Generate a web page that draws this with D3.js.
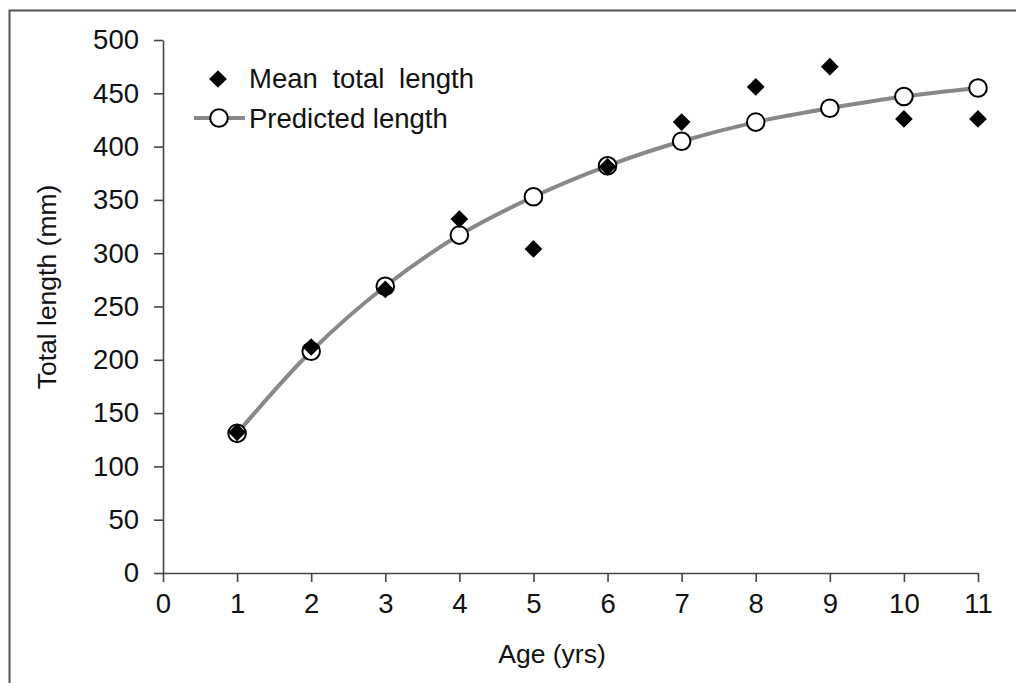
<!DOCTYPE html>
<html>
<head>
<meta charset="utf-8">
<script src="https://cdn.jsdelivr.net/npm/d3@7"></script>
<style>
  body { margin: 0; background: #fff; }
  text { font-family: "Liberation Sans", Arial, sans-serif; fill: #111; }
</style>
</head>
<body>
<div id="chart"></div>
<script>
// data
var ages = [1, 2, 3, 4, 5, 6, 7, 8, 9, 10, 11];
var meanLength = [132, 212, 266, 332, 304, 381, 423, 456, 475, 426, 426];
var predictedLength = [131, 208, 269, 317, 353, 382, 405, 423, 436, 447, 455];
var xTicks = [0, 1, 2, 3, 4, 5, 6, 7, 8, 9, 10, 11];
var yTicks = [0, 50, 100, 150, 200, 250, 300, 350, 400, 450, 500];

var width = 1016;
var height = 683;
var margin = { top: 40, left: 163, right: 38, bottom: 110 };

var svg = d3.select('#chart')
  .append('svg')
  .attr('width', width)
  .attr('height', height);

// outer frame
svg.append('rect')
  .attr('x', 9.5)
  .attr('y', 10.5)
  .attr('width', width + 20)
  .attr('height', height + 20)
  .attr('fill', 'none')
  .attr('stroke', '#555')
  .attr('stroke-width', 2);

var x = d3.scaleLinear()
  .domain([0, 11])
  .range([margin.left, width - margin.right]);

var y = d3.scaleLinear()
  .domain([0, 500])
  .range([height - margin.bottom, margin.top]);

var x_axis = d3.axisBottom(x).tickValues(xTicks).tickSize(9).tickSizeOuter(0).tickPadding(11);
var y_axis = d3.axisLeft(y).tickValues(yTicks).tickSize(9).tickSizeOuter(0).tickPadding(15);

var gx = svg.append('g')
  .attr('class', 'x axis')
  .attr('transform', 'translate(0,' + y(0) + ')')
  .call(x_axis);

var gy = svg.append('g')
  .attr('class', 'y axis')
  .attr('transform', 'translate(' + x(0) + ',0)')
  .call(y_axis);

[gx, gy].forEach(function(g) {
  g.selectAll('path, line').attr('stroke', '#444').attr('stroke-width', 1.6);
  g.selectAll('text')
    .style('font-family', '"Liberation Sans", Arial, sans-serif')
    .style('font-size', '27.5px')
    .attr('fill', '#111');
});

// axis labels
svg.append('text')
  .attr('x', 552)
  .attr('y', 663)
  .attr('text-anchor', 'middle')
  .style('font-size', '26.5px')
  .text('Age (yrs)');

svg.append('text')
  .attr('transform', 'translate(56,287) rotate(-90)')
  .attr('text-anchor', 'middle')
  .style('font-size', '26.5px')
  .text('Total length (mm)');

// predicted curve
var line = d3.line()
  .curve(d3.curveCatmullRom)
  .x(function(d, i) { return x(ages[i]); })
  .y(function(d) { return y(d); });

svg.append('path')
  .datum(predictedLength)
  .attr('fill', 'none')
  .attr('stroke', '#888')
  .attr('stroke-width', 4)
  .attr('d', line);

svg.selectAll('.predicted')
  .data(predictedLength)
  .enter()
  .append('circle')
  .attr('class', 'predicted')
  .attr('cx', function(d, i) { return x(ages[i]); })
  .attr('cy', function(d) { return y(d); })
  .attr('r', 8.8)
  .attr('fill', '#fff')
  .attr('stroke', '#000')
  .attr('stroke-width', 2);

var diamond = d3.symbol().type(d3.symbolDiamond2).size(200);

svg.selectAll('.mean')
  .data(meanLength)
  .enter()
  .append('path')
  .attr('class', 'mean')
  .attr('d', diamond)
  .attr('transform', function(d, i) {
    return 'translate(' + x(ages[i]) + ',' + y(d) + ')';
  })
  .attr('fill', '#000');

// legend
var legend = svg.append('g');

legend.append('path')
  .attr('d', diamond)
  .attr('transform', 'translate(218,79)')
  .attr('fill', '#000');

legend.append('text')
  .attr('x', 249)
  .attr('y', 88)
  .style('font-size', '27.5px')
  .style('word-spacing', '7px')
  .text('Mean total length');

legend.append('line')
  .attr('x1', 194).attr('x2', 245)
  .attr('y1', 118).attr('y2', 118)
  .attr('stroke', '#888')
  .attr('stroke-width', 4);

legend.append('circle')
  .attr('cx', 219)
  .attr('cy', 118)
  .attr('r', 8.8)
  .attr('fill', '#fff')
  .attr('stroke', '#000')
  .attr('stroke-width', 2);

legend.append('text')
  .attr('x', 249)
  .attr('y', 128)
  .style('font-size', '27.5px')
  .text('Predicted length');
</script>
</body>
</html>
